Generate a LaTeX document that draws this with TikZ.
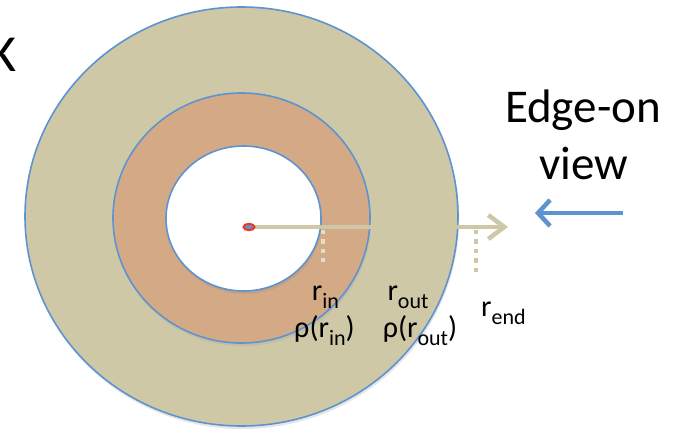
\documentclass[tikz,border=0pt]{standalone}
\usepackage{fontspec}
\setmainfont{Carlito}
\usepackage{xcolor}
\usepackage{tikz}
\usetikzlibrary{arrows.meta, shadows}
\definecolor{diskbg}{HTML}{CEC8A7}
\definecolor{ringorange}{HTML}{D4AA86}
\definecolor{edgeblue}{HTML}{5E93D1}
\definecolor{dotred}{HTML}{F0361E}
\newcommand{\rsub}[1]{\raisebox{-8.5pt}{\fontsize{22}{22}\selectfont #1}}
\tikzset{
  ringline/.style={draw=edgeblue, line width=1.6pt},
  radlabel/.style={anchor=base, inner sep=0pt, font=\fontsize{30}{30}\selectfont},
  markline/.style={diskbg, line width=4.5pt, dash pattern=on 4.5pt off 5pt}
}
\begin{document}
\begin{tikzpicture}[x=1pt, y=1pt]
\useasboundingbox (0,0) rectangle (679,431);
% Cut-off letter at the left edge
\node[anchor=base west, inner sep=0pt, font=\fontsize{52}{52}\selectfont] (cutk) at (-11,359) {K};
% Disk: outer body, ring, hole
\fill[ringline, fill=diskbg, drop shadow={shadow xshift=1pt, shadow yshift=-3pt, opacity=0.2}]
  (241.5,214.5) ellipse [x radius=216.5, y radius=209.5];
\fill[ringline, fill=ringorange, drop shadow={shadow xshift=1pt, shadow yshift=-3pt, opacity=0.15}]
  (241.5,213) ellipse [x radius=128.5, y radius=125];
\fill[ringline, fill=white, drop shadow={shadow xshift=1pt, shadow yshift=-3pt, opacity=0.2}]
  (243.5,212.5) ellipse [x radius=77.5, y radius=72.5];
% Radii marks
\coordinate (centre) at (249,204);
\coordinate (tip) at (508,204);
\coordinate (inTop) at (323,201);
\coordinate (inBot) at (323,169);
\coordinate (endTop) at (476,201);
\coordinate (endBot) at (476,158);
\draw[markline, white!40!diskbg] (inTop) -- (inBot);
\draw[markline] (endTop) -- (endBot);
\draw[diskbg, line width=4.5pt, -{Straight Barb[length=16pt, width=24pt, line width=4.5pt]}] (centre) -- (tip);
\filldraw[draw=dotred, fill=edgeblue, line width=2pt] (centre) ellipse [x radius=5.5, y radius=3.2];
% Labels
\node[radlabel] (rin) at (325.5,131) {r\rsub{in}};
\node[radlabel] (rhoin) at (324.5,94) {ρ(r\rsub{in})};
\node[radlabel] (rout) at (408,131) {r\rsub{out}};
\node[radlabel] (rhoout) at (420,94) {ρ(r\rsub{out})};
\node[radlabel] (rend) at (503.5,115) {r\rsub{end}};
% Viewing direction
\node[anchor=base, inner sep=0pt, font=\fontsize{47}{47}\selectfont] (edgeon) at (583,308) {Edge-on};
\node[anchor=base, inner sep=0pt, font=\fontsize{47}{47}\selectfont] (view) at (584,251) {view};
\coordinate (viewFrom) at (623,218);
\coordinate (viewTo) at (535,218);
\draw[edgeblue, line width=4.5pt, -{Straight Barb[length=12pt, width=26pt, line width=4.5pt]}] (viewFrom) -- (viewTo);
\end{tikzpicture}
\end{document}
